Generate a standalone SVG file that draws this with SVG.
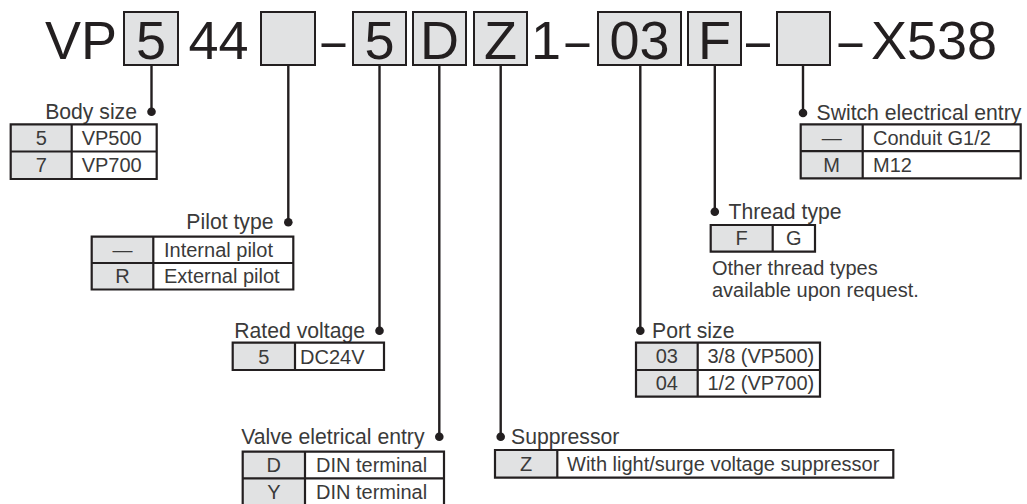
<svg xmlns="http://www.w3.org/2000/svg" width="1027" height="504" viewBox="0 0 1027 504">
<defs>
<style>
.hd{font-family:"Liberation Sans",Arial,sans-serif;font-size:54px;fill:#231f20;text-anchor:middle}
.bx{fill:#e1e2e3;stroke:#231f20;stroke-width:2}
.lb{font-family:"Liberation Sans",Arial,sans-serif;font-size:21.2px;fill:#3a3a3a}
.end{text-anchor:end}
.tt{font-family:"Liberation Sans",Arial,sans-serif;font-size:20px;fill:#3a3a3a}
.mid{text-anchor:middle}
.tk{fill:#e1e2e3}
.tw{fill:#ffffff}
.tb{fill:none;stroke:#231f20;stroke-width:2.2}
.ln{stroke:#231f20;stroke-width:2.4;fill:none}
.dot{fill:#231f20}
</style>
</defs>
<rect width="1027" height="504" fill="#ffffff"/>

<g id="code">
<text class="hd" x="81" y="59">VP</text>
<g id="seg-size"><rect class="bx" x="124" y="12" width="54" height="53"/><text class="hd" x="151" y="59">5</text></g>
<text class="hd" x="218.5" y="59">44</text>
<g id="seg-pilot"><rect class="bx" x="261" y="12" width="54" height="53"/></g>
<text class="hd" x="333.5" y="59" textLength="24" lengthAdjust="spacingAndGlyphs">–</text>
<g id="seg-voltage"><rect class="bx" x="353" y="12" width="53" height="53"/><text class="hd" x="379.5" y="59">5</text></g>
<g id="seg-valve"><rect class="bx" x="413" y="12" width="53" height="53"/><text class="hd" x="439.5" y="59">D</text></g>
<g id="seg-supp"><rect class="bx" x="474" y="12" width="53" height="53"/><text class="hd" x="500.5" y="59">Z</text></g>
<text class="hd" x="546" y="59">1</text>
<text class="hd" x="577.5" y="59" textLength="24" lengthAdjust="spacingAndGlyphs">–</text>
<g id="seg-port"><rect class="bx" x="598" y="12" width="83" height="53"/><text class="hd" x="639.5" y="59">03</text></g>
<g id="seg-thread"><rect class="bx" x="688" y="12" width="53" height="53"/><text class="hd" x="714.5" y="59">F</text></g>
<text class="hd" x="758" y="59" textLength="24" lengthAdjust="spacingAndGlyphs">–</text>
<g id="seg-switch"><rect class="bx" x="777" y="12" width="53" height="53"/></g>
<text class="hd" x="850.5" y="59" textLength="24" lengthAdjust="spacingAndGlyphs">–</text>
<text class="hd" x="934" y="59">X538</text>
</g>

<g id="connectors">
<path class="ln" d="M151.5 65V111.7"/><circle class="dot" cx="151.5" cy="111.7" r="4.3"/>
<path class="ln" d="M288.3 65V222.3"/><circle class="dot" cx="288.3" cy="222.3" r="4.3"/>
<path class="ln" d="M379.5 65V330.7"/><circle class="dot" cx="379.5" cy="330.7" r="4.3"/>
<path class="ln" d="M439.3 65V436.7"/><circle class="dot" cx="439.3" cy="436.7" r="4.3"/>
<path class="ln" d="M500.7 65V436.7"/><circle class="dot" cx="500.7" cy="436.7" r="4.3"/>
<path class="ln" d="M640.3 65V330.7"/><circle class="dot" cx="640.3" cy="330.7" r="4.3"/>
<path class="ln" d="M714.8 65V211.7"/><circle class="dot" cx="714.8" cy="211.7" r="4.3"/>
<path class="ln" d="M803 65V113"/><circle class="dot" cx="803" cy="113" r="4.3"/>
</g>

<g id="body-size">
<text class="lb end" x="137" y="119">Body size</text>
<rect class="tk" x="10.7" y="124.3" width="61" height="54.7"/>
<rect class="tw" x="71.7" y="124.3" width="85" height="54.7"/>
<path class="tb" d="M10.7 124.3H156.7V179H10.7Z M10.7 151.5H156.7 M71.7 124.3V179"/>
<text class="tt mid" x="41.2" y="145">5</text><text class="tt" x="81.7" y="145">VP500</text>
<text class="tt mid" x="41.2" y="172">7</text><text class="tt" x="81.7" y="172">VP700</text>
</g>

<g id="pilot-type">
<text class="lb end" x="273.5" y="229">Pilot type</text>
<rect class="tk" x="91.7" y="236.7" width="61.6" height="52.8"/>
<rect class="tw" x="153.3" y="236.7" width="140" height="52.8"/>
<path class="tb" d="M91.7 236.7H293.3V289.5H91.7Z M91.7 263H293.3 M153.3 236.7V289.5"/>
<text class="tt mid" x="122.5" y="256.5">—</text><text class="tt" x="164" y="256.5">Internal pilot</text>
<text class="tt mid" x="122.5" y="283">R</text><text class="tt" x="164" y="283">External pilot</text>
</g>

<g id="rated-voltage">
<text class="lb end" x="365" y="337.5">Rated voltage</text>
<rect class="tk" x="232.7" y="342.7" width="62.3" height="27.3"/>
<rect class="tw" x="295" y="342.7" width="89" height="27.3"/>
<path class="tb" d="M232.7 342.7H384V370H232.7Z M295 342.7V370"/>
<text class="tt mid" x="263.8" y="363.5">5</text><text class="tt" x="300" y="363.5">DC24V</text>
</g>

<g id="valve-entry">
<text class="lb end" x="424.5" y="443.5">Valve eletrical entry</text>
<rect class="tk" x="242.7" y="451.7" width="62.3" height="53.3"/>
<rect class="tw" x="305" y="451.7" width="139" height="53.3"/>
<path class="tb" d="M242.7 451.7H444V505H242.7Z M242.7 478.3H444 M305 451.7V505"/>
<text class="tt mid" x="273.8" y="472">D</text><text class="tt" x="316" y="472">DIN terminal</text>
<text class="tt mid" x="273.8" y="499">Y</text><text class="tt" x="316" y="499">DIN terminal</text>
</g>

<g id="suppressor">
<text class="lb" x="511" y="443.5">Suppressor</text>
<rect class="tk" x="495" y="450" width="62.3" height="27.7"/>
<rect class="tw" x="557.3" y="450" width="336" height="27.7"/>
<path class="tb" d="M495 450H893.3V477.7H495Z M557.3 450V477.7"/>
<text class="tt mid" x="526.2" y="471">Z</text><text class="tt" x="567" y="471">With light/surge voltage suppressor</text>
</g>

<g id="port-size">
<text class="lb" x="652" y="337.5">Port size</text>
<rect class="tk" x="636" y="342.7" width="61.7" height="54"/>
<rect class="tw" x="697.7" y="342.7" width="122.3" height="54"/>
<path class="tb" d="M636 342.7H820V396.7H636Z M636 370H820 M697.7 342.7V396.7"/>
<text class="tt mid" x="666.8" y="363.3">03</text><text class="tt" x="707.5" y="363.3">3/8 (VP500)</text>
<text class="tt mid" x="666.8" y="390.3">04</text><text class="tt" x="707.5" y="390.3">1/2 (VP700)</text>
</g>

<g id="thread-type">
<text class="lb" x="728.5" y="218.5">Thread type</text>
<rect class="tk" x="710.7" y="225" width="62" height="26.7"/>
<rect class="tw" x="772.7" y="225" width="42.3" height="26.7"/>
<path class="tb" d="M710.7 225H815V251.7H710.7Z M772.7 225V251.7"/>
<text class="tt mid" x="741.7" y="245">F</text><text class="tt mid" x="793.8" y="245">G</text>
<text class="tt" x="712" y="275">Other thread types</text>
<text class="tt" x="712" y="297">available upon request.</text>
</g>

<g id="switch-entry">
<text class="lb" x="816.5" y="120">Switch electrical entry</text>
<rect class="tk" x="800.7" y="124.3" width="62" height="54"/>
<rect class="tw" x="862.7" y="124.3" width="158" height="54"/>
<path class="tb" d="M800.7 124.3H1020.7V178.3H800.7Z M800.7 151.2H1020.7 M862.7 124.3V178.3"/>
<text class="tt mid" x="831.7" y="145">—</text><text class="tt" x="873" y="145">Conduit G1/2</text>
<text class="tt mid" x="831.7" y="172">M</text><text class="tt" x="873" y="172">M12</text>
</g>
</svg>
